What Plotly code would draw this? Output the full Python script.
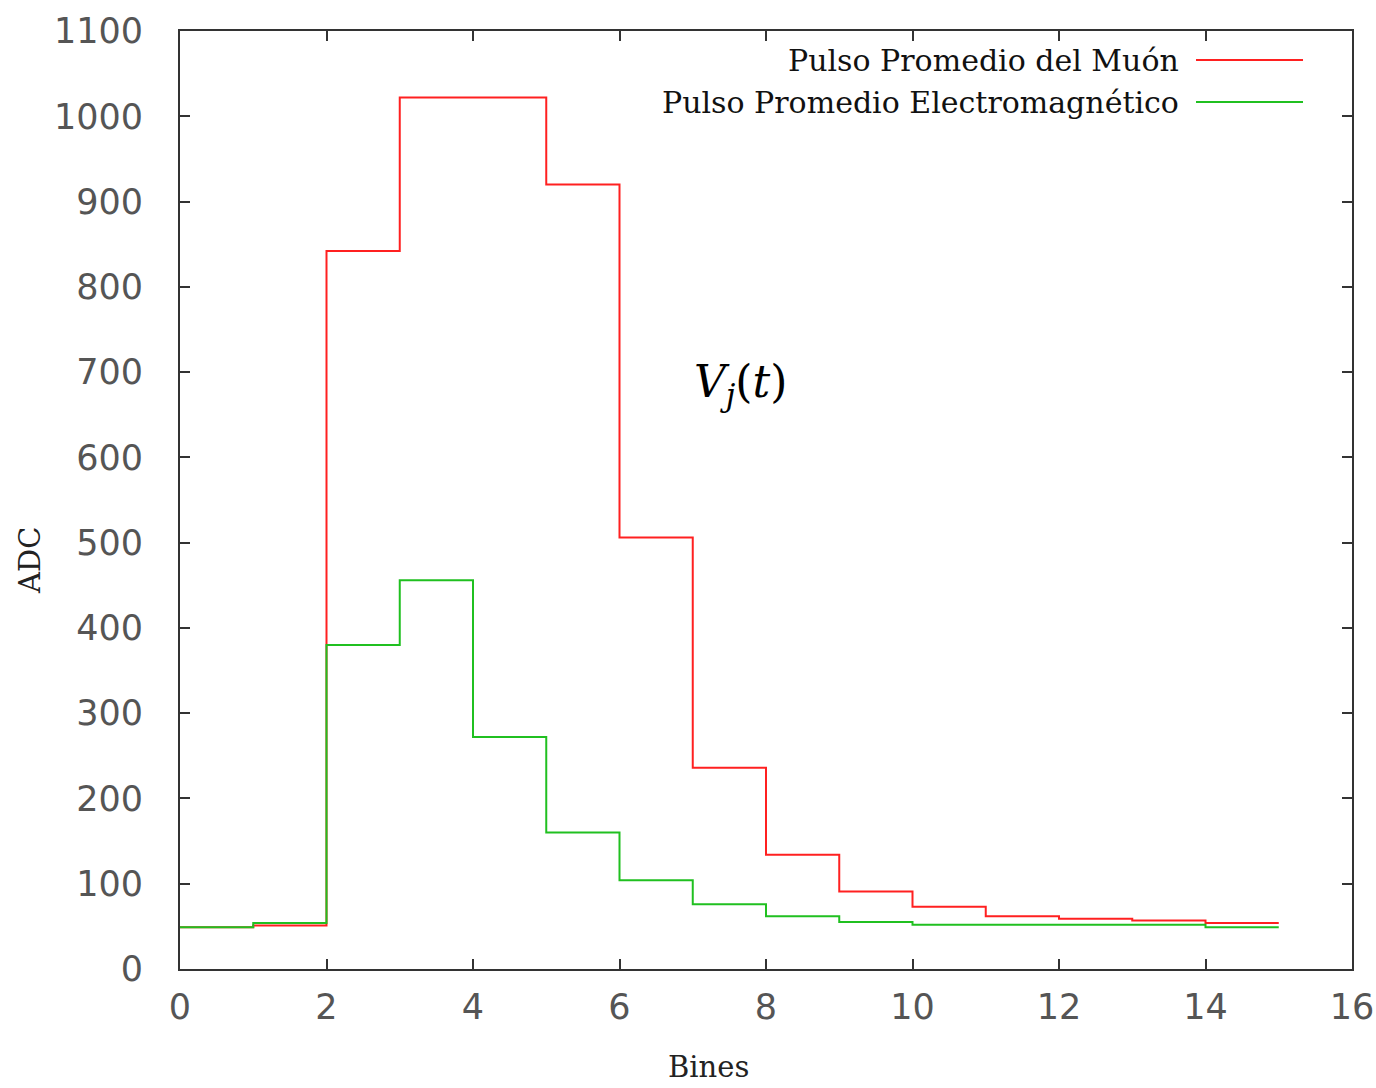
import plotly.graph_objects as go

bins = list(range(0, 16))
muon = [49, 51, 842, 1022, 1022, 920, 506, 236, 134, 91, 73, 62, 59, 57, 54]
em = [49, 54, 380, 456, 272, 160, 104, 76, 62, 55, 52, 52, 52, 52, 49]
x_ticks = [0, 2, 4, 6, 8, 10, 12, 14, 16]
y_ticks = [0, 100, 200, 300, 400, 500, 600, 700, 800, 900, 1000, 1100]
names = ["Pulso Promedio del Muón", "Pulso Promedio Electromagnético"]
colors = ["#ff2020", "#20c020"]

fig = go.Figure()
for vals, name, col in zip([muon, em], names, colors):
    fig.add_trace(go.Scatter(x=bins, y=vals + [vals[-1]], mode="lines", line_shape="hv",
                             line=dict(color=col, width=2), name=name, showlegend=False))

axis_common = dict(showline=True, linecolor="#333", linewidth=2, mirror="ticks",
                   ticks="inside", ticklen=10, tickwidth=2, tickcolor="#333",
                   showgrid=False, zeroline=False, automargin=False,
                   tickfont=dict(family="DejaVu Sans", size=35, color="#555"))
fig.update_xaxes(range=[0, 16], tickvals=x_ticks, ticklabelstandoff=6, **axis_common)
fig.update_yaxes(range=[0, 1100], tickvals=y_ticks, ticklabelstandoff=28, **axis_common)

# axis titles
fig.add_annotation(x=-0.128, y=0.436, xref="paper", yref="paper", text="ADC", showarrow=False,
                   textangle=-90, xanchor="center", yanchor="middle",
                   font=dict(family="DejaVu Serif", size=29, color="#222"))
fig.add_annotation(x=0.451, y=-0.105, xref="paper", yref="paper", text="Bines", showarrow=False,
                   xanchor="center", yanchor="middle",
                   font=dict(family="DejaVu Serif", size=29, color="#222"))

# legend (text on left, line sample on right, gnuplot style)
leg_y = [0.969, 0.9243]
for name, col, yy in zip(names, colors, leg_y):
    fig.add_annotation(x=0.854, y=yy, xref="paper", yref="paper", text=name, showarrow=False,
                       xanchor="right", yanchor="middle",
                       font=dict(family="DejaVu Serif", size=30, color="#111"))
    fig.add_shape(type="line", xref="paper", yref="paper", x0=0.8669, x1=0.9582, y0=yy, y1=yy,
                  line=dict(color=col, width=2))

fig.add_annotation(x=7.65, y=685, text="<i>V</i><sub><i>j</i></sub>(<i>t</i>)", showarrow=False,
                   font=dict(family="DejaVu Serif", size=44, color="#000"))

fig.update_layout(width=1376, height=1088, plot_bgcolor="white", paper_bgcolor="white",
                  margin=dict(l=180, r=24, t=31, b=119, autoexpand=False), showlegend=False)
fig.write_html("out.html")
